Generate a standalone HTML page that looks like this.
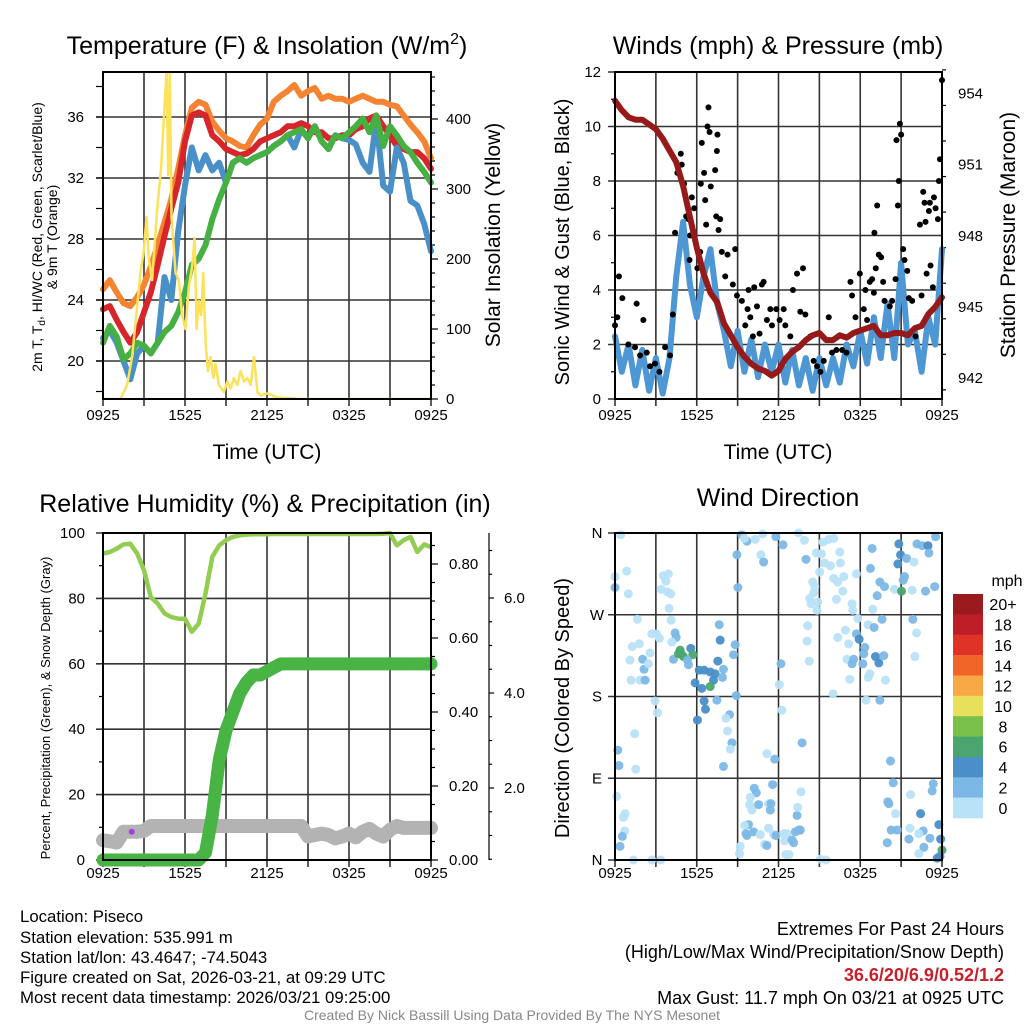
<!DOCTYPE html>
<html><head><meta charset="utf-8">
<style>
html,body{margin:0;padding:0;background:#fff;}
svg{display:block;font-family:"Liberation Sans",Arial,sans-serif;}
</style></head>
<body>
<svg id="fig" width="1024" height="1024" viewBox="0 0 1024 1024" xmlns="http://www.w3.org/2000/svg">
<rect width="1024" height="1024" fill="#fff"/>
<g id="p1"></g>
<g id="p2"></g>
<g id="p3"></g>
<g id="p4"></g>
<text x="267" y="54" font-size="25" text-anchor="middle">Temperature (F) &amp; Insolation (W/m<tspan dy="-10" font-size="16">2</tspan><tspan dy="10">)</tspan></text>
<text x="778" y="54" font-size="25" text-anchor="middle">Winds (mph) &amp; Pressure (mb)</text>
<text x="265" y="512" font-size="25" text-anchor="middle">Relative Humidity (%) &amp; Precipitation (in)</text>
<text x="778" y="506" font-size="25" text-anchor="middle">Wind Direction</text>
<text x="267" y="459" font-size="21" text-anchor="middle">Time (UTC)</text>
<text x="778" y="459" font-size="21" text-anchor="middle">Time (UTC)</text>
<text transform="translate(42,237) rotate(-90)" font-size="14" text-anchor="middle">2m T, T<tspan dy="3" font-size="10">d</tspan><tspan dy="-3">, HI/WC (Red, Green, Scarlet/Blue)</tspan></text>
<text transform="translate(57,237) rotate(-90)" font-size="14" text-anchor="middle">&amp; 9m T (Orange)</text>
<text transform="translate(500,235) rotate(-90)" font-size="21" text-anchor="middle">Solar Insolation (Yellow)</text>
<text transform="translate(569,242) rotate(-90)" font-size="20" text-anchor="middle">Sonic Wind &amp; Gust (Blue, Black)</text>
<text transform="translate(1015,235) rotate(-90)" font-size="21" text-anchor="middle">Station Pressure (Maroon)</text>
<text transform="translate(50,708) rotate(-90)" font-size="13" text-anchor="middle">Percent, Precipitation (Green), &amp; Snow Depth (Gray)</text>
<text transform="translate(569,708) rotate(-90)" font-size="20" text-anchor="middle">Direction (Colored By Speed)</text>
<g font-size="16.8">
<text x="20" y="922">Location: Piseco</text>
<text x="20" y="943">Station elevation: 535.991 m</text>
<text x="20" y="963">Station lat/lon: 43.4647; -74.5043</text>
<text x="20" y="983">Figure created on Sat, 2026-03-21, at 09:29 UTC</text>
<text x="20" y="1003">Most recent data timestamp: 2026/03/21 09:25:00</text>
</g>
<g font-size="18" text-anchor="end">
<text x="1004" y="935">Extremes For Past 24 Hours</text>
<text x="1004" y="958">(High/Low/Max Wind/Precipitation/Snow Depth)</text>
<text x="1004" y="981" fill="#c8202a" font-weight="bold">36.6/20/6.9/0.52/1.2</text>
<text x="1004" y="1004">Max Gust: 11.7 mph On 03/21 at 0925 UTC</text>
</g>
<text x="512" y="1020" font-size="14" fill="#888" text-anchor="middle">Created By Nick Bassill Using Data Provided By The NYS Mesonet</text>
</svg>
<script>
// ---- shared time axis ----
const halfHours = Array.from({length:49},(_,i)=>i*0.5);
const timeTicks = [0,6,12,18,24];
const timeTickLabels = ["0925","1525","2125","0325","0925"];
// ---- panel 1 data ----
const temp9m = [24.7,25.3,24.5,23.8,23.6,24.2,25.0,26.2,27.6,29.1,30.6,32.6,34.8,36.6,37.0,36.8,35.7,35.1,34.6,34.4,34.1,34.0,34.8,35.5,35.9,37.0,37.4,37.7,38.1,37.4,37.7,37.9,37.2,37.4,37.2,37.2,37.0,37.2,37.4,37.2,37.0,37.0,36.8,36.7,36.1,35.5,35.0,34.4,33.3];
const temp2m = [23.4,23.6,22.7,21.9,21.2,21.9,23.2,24.5,26.3,28.2,30.0,31.7,34.4,36.1,36.3,36.1,34.8,34.4,33.9,33.7,33.5,33.6,33.9,34.4,34.6,34.8,35.0,35.4,35.4,35.6,35.4,35.0,35.0,34.6,34.6,34.8,34.8,35.2,35.4,35.9,36.1,35.4,34.8,34.1,33.9,33.7,33.7,33.3,32.6];
const dewpoint = [21.2,22.3,21.6,20.1,20.5,21.2,21.0,20.5,21.2,21.9,22.3,23.2,24.5,26.3,26.7,27.6,29.3,30.6,31.7,33.0,33.3,33.0,33.3,33.5,33.7,34.1,34.4,34.8,35.0,35.2,34.6,35.4,34.4,33.9,34.8,34.6,35.0,35.4,35.9,35.0,36.1,34.1,35.4,34.8,34.1,33.7,33.0,32.4,31.7];
const heatIndex = [21.5,22.0,21.2,20.0,18.8,20.5,21.0,20.5,21.2,25.5,24.0,28.5,31.5,34.0,32.5,33.5,32.5,33.0,31.7,33.0,33.3,33.0,33.3,33.5,33.7,34.1,34.4,34.8,34.0,35.2,34.6,35.4,34.4,33.9,34.8,34.6,34.5,34.2,33.0,32.4,35.8,31.5,31.1,34.0,33.0,30.5,30.2,29.0,27.2];
const insolTimes = [0,1.27,1.76,2.13,2.49,2.74,2.98,3.18,3.35,3.59,3.96,4.25,4.45,4.65,4.77,4.89,5.01,5.31,5.55,5.79,6.04,6.28,6.53,6.70,6.85,7.02,7.19,7.33,7.51,7.68,7.87,8.07,8.24,8.48,8.85,9.10,9.34,9.58,9.83,10.07,10.32,10.56,10.81,11.05,11.30,11.54,12.03,12.76,13.74,14.23,24];
const insolValues = [0,0,20,60,130,180,210,260,200,170,270,330,400,470,320,470,260,180,170,120,100,160,190,230,100,140,120,180,80,40,60,30,50,20,10,25,15,30,20,40,25,30,20,60,10,5,8,2,1,0,0];
const tempTicks = [20,24,28,32,36];
const insolTicks = [0,100,200,300,400];
// ---- panel 2 data ----
const sonicWind = [2.3,1.0,2.0,0.5,1.8,0.3,1.5,0.2,1.5,4.5,6.5,4.2,3.0,4.5,5.5,3.5,2.5,1.2,2.5,1.0,2.2,0.8,2.0,1.0,2.0,0.6,1.8,0.5,1.5,0.3,1.5,0.5,1.5,0.6,2.0,1.2,2.5,1.3,3.0,1.5,3.5,1.5,5.0,2.0,2.5,1.0,3.0,2.0,5.5];
const pressure = [953.7,953.3,953.0,952.9,952.9,952.7,952.5,952.1,951.6,951.1,950.1,948.8,947.5,946.4,945.6,945.2,944.3,943.8,943.3,942.9,942.6,942.4,942.3,942.1,942.3,942.8,943.1,943.3,943.6,943.8,943.9,943.6,943.6,943.8,943.7,943.9,944.0,944.1,944.2,943.8,943.8,943.9,943.9,943.8,944.1,944.2,944.7,945.0,945.4];
const gustTimes = [0,0.17,0.29,0.54,0.98,1.47,1.59,1.84,2.08,2.33,2.57,2.94,3.26,3.68,4.04,4.24,4.41,4.58,4.83,4.90,5.07,5.22,5.39,5.51,5.47,5.64,5.81,6.05,6.25,6.30,6.37,6.54,6.62,6.69,6.79,6.86,6.94,7.03,7.35,7.43,7.48,7.52,7.60,7.72,7.84,8.09,8.26,8.65,8.82,8.95,9.31,9.56,9.73,9.80,9.93,10.12,10.22,10.42,10.61,10.78,10.91,11.15,11.40,11.52,11.84,12.08,12.38,12.50,12.87,13.06,13.36,13.60,13.80,13.97,14.34,14.58,14.83,15.07,15.32,15.69,15.93,16.25,16.67,16.99,17.28,17.40,17.65,17.97,18.26,18.38,18.50,18.70,18.87,19.00,19.04,19.14,19.24,19.36,19.53,19.68,19.78,20.17,20.34,20.59,20.66,20.76,20.83,20.91,21.00,21.15,21.25,21.45,21.57,21.81,22.06,22.38,22.50,22.62,22.72,22.79,22.87,23.04,23.11,23.16,23.33,23.41,23.53,23.70,23.77,23.85,24.0];
const gustValues = [2.7,3.0,4.5,3.7,2.0,1.9,3.5,1.6,2.9,1.7,1.2,1.3,1.0,1.9,1.6,3.1,6.1,8.3,9.0,8.6,7.9,6.7,6.6,6.0,5.1,7.4,7.0,4.8,5.4,7.9,9.4,8.3,7.3,6.4,10.0,10.7,9.8,7.8,8.4,6.7,9.1,9.7,6.2,6.6,5.4,4.5,5.3,4.2,5.5,3.8,3.6,2.7,3.3,4.0,3.0,2.3,4.1,3.4,2.4,4.2,4.3,2.9,3.3,2.7,3.3,2.9,3.3,2.7,2.3,4.0,4.6,3.2,4.8,3.1,2.3,1.4,1.2,1.0,1.4,3.0,1.7,1.8,1.8,1.7,4.3,3.8,3.0,4.6,3.3,4.0,2.9,4.3,4.4,3.9,6.1,4.8,7.1,5.3,5.2,4.3,3.6,3.4,3.6,4.4,9.5,7.1,8.0,10.1,9.7,5.5,5.1,4.7,3.7,3.6,2.3,6.4,3.8,7.6,7.2,6.5,4.6,6.9,7.2,4.9,4.1,7.4,7.0,6.6,8.0,8.8,11.7];
const windTicks = [0,2,4,6,8,10,12];
const pressTicks = [942,945,948,951,954];
// ---- panel 3 data ----
const relHumidity = [93.7,94.2,95.2,96.5,96.7,93.7,88.6,80.4,78.4,75.4,74.3,73.8,73.8,69.8,72.3,81.5,92.7,96.2,97.8,98.8,99.3,99.5,99.6,99.6,99.6,99.7,99.7,99.7,99.7,99.7,99.7,99.7,99.7,99.7,99.7,99.7,99.7,99.7,99.7,99.7,99.7,99.8,100,96.2,97.8,98.8,94.2,96.5,95.7];
const precip = [0,0,0,0,0,0,0,0,0,0,0,0,0,0,0,0.02,0.12,0.27,0.35,0.40,0.45,0.48,0.50,0.50,0.51,0.52,0.53,0.53,0.53,0.53,0.53,0.53,0.53,0.53,0.53,0.53,0.53,0.53,0.53,0.53,0.53,0.53,0.53,0.53,0.53,0.53,0.53,0.53,0.53];
const snowDepth = [0.9,0.88,0.85,1.08,1.08,1.08,1.1,1.2,1.2,1.2,1.2,1.2,1.2,1.2,1.2,1.2,1.2,1.2,1.2,1.2,1.2,1.2,1.2,1.2,1.2,1.2,1.2,1.2,1.2,1.2,0.98,1.01,1.04,1.01,0.94,0.98,1.04,0.96,1.08,1.14,1.04,0.98,1.12,1.2,1.16,1.16,1.16,1.16,1.16];
const rhTicks = [0,20,40,60,80,100];
const precipTicks = [0,0.2,0.4,0.6,0.8];
const precipTickLabels = ["0.00","0.20","0.40","0.60","0.80"];
const snowTicks = [2,4,6];
const snowTickLabels = ["2.0","4.0","6.0"];
// ---- panel 4 data ----
const dirTimes = [0.42,0,0,0.86,0.98,1.64,1.27,1.79,1.10,2.03,2.13,1.18,1.84,2.21,2.57,2.45,2.70,3.06,3.26,3.55,3.92,3.73,3.38,3.85,4.09,3.97,4.12,4.41,4.49,4.17,4.29,4.78,4.66,4.90,5.02,5.56,5.71,5.39,5.32,6.18,6.54,6.99,7.35,7.23,6.99,6.37,5.88,6.54,6.64,6.05,7.48,7.65,7.72,7.55,7.96,7.89,8.82,8.70,8.90,8.41,8.14,8.26,8.58,8.46,7.96,2.94,3.11,1.45,1.52,0.20,0.29,0.12,0.74,0.61,0.71,0.54,0.37,1.35,2.70,3.36,9.31,9.68,9.49,10.29,10.83,11.81,12.33,13.48,13.90,8.95,9.02,10.71,10.91,14.02,14.78,15.02,15.27,15.69,16.05,15.15,15.37,15.81,16.50,16.54,16.05,16.34,16.79,16.72,14.51,14.66,14.58,14.29,14.39,14.88,14.83,16.25,17.40,17.45,17.82,17.72,18.87,18.75,19.44,19.78,19.24,18.92,19.60,18.58,16.35,16.91,17.15,17.72,17.92,18.33,18.26,17.03,17.52,17.40,18.19,19.12,19.36,19.73,19.02,18.70,18.58,17.23,19.85,19.44,18.43,16.00,14.14,14.09,14.26,12.06,12.18,12.25,13.73,11.15,11.72,20.22,20.83,20.96,20.76,21.40,21.25,21.15,20.51,21.03,21.81,21.94,22.16,22.55,22.97,23.04,22.79,23.46,23.53,21.86,22.13,22.01,20.42,20.02,20.10,20.59,20.27,20.71,19.98,21.69,22.43,21.64,22.62,22.30,21.57,23.11,22.67,22.30,23.36,23.28,23.77,23.90,24.0,23.65,23.85,10.22,10.37,9.93,9.88,10.05,10.54,11.27,11.45,11.40,11.57,9.80,9.51,9.61,9.68,10.17,10.66,11.27,11.64,11.81,12.38,12.45,12.62,12.99,13.11,13.24,13.48,13.60,13.36,13.41,13.65,10.98,11.15,9.19,9.14,12.53,12.77,15.07,15.49];
const dirDegrees = [358,312,300,318,293,265,235,238,220,221,210,198,198,198,228,216,249,249,244,313,315,307,298,295,293,277,264,250,245,240,221,231,227,226,224,233,226,215,220,209,209,207,205,198,191,189,195,175,166,154,176,259,242,219,210,201,237,226,181,160,156,142,129,122,103,175,162,139,100,121,104,70,51,47,32,26,15,0,0,0,358,351,354,353,359,356,347,360,352,336,300,336,328,331,338,317,350,353,354,337,327,324,339,327,310,306,312,296,306,301,294,288,282,284,275,287,282,275,266,315,343,321,306,301,291,276,265,259,245,253,238,249,243,234,227,221,221,216,216,224,217,225,256,205,201,199,198,176,176,183,258,241,219,193,216,165,129,117,111,109,348,336,326,332,312,308,298,296,297,328,348,346,346,338,296,301,356,265,250,224,85,64,62,51,33,33,19,72,51,35,32,29,23,24,14,7,84,76,39,23,11,2,4,79,74,69,61,55,61,62,62,55,83,39,38,29,27,31,28,35,28,27,29,21,29,22,19,31,33,33,49,58,75,17,16,15,7,6,6,1,0];
const dirSpeeds = [1,1,3,1,1,1,1,1,1,3,3,1,1,3,1,1,1,1,1,1,1,1,1,1,1,1,1,3,3,1,3,7,7,7,7,5,7,3,3,5,5,5,5,5,7,5,5,5,5,5,3,3,5,5,3,3,3,3,3,3,1,1,3,1,3,1,1,1,1,3,3,1,1,1,1,3,3,1,1,1,3,3,1,1,1,3,3,1,1,3,3,1,3,3,1,1,1,1,1,1,1,1,1,1,1,1,1,1,1,1,1,1,1,1,1,1,1,1,1,1,3,3,3,3,3,1,3,1,1,1,1,3,5,3,3,1,3,3,3,5,5,3,3,1,1,1,1,3,1,1,1,1,1,1,3,1,3,1,3,3,5,5,5,3,3,3,1,7,1,1,3,3,5,3,3,3,3,3,1,1,3,3,3,1,3,3,3,1,5,1,3,1,3,3,3,1,3,3,5,5,7,5,5,3,3,1,1,1,3,1,3,3,3,3,1,3,3,3,1,1,1,3,1,1,1,3,3,3,3,3,3,1,1,1,3,1,1,1];
const dirTicks = [0,90,180,270,360];
const dirTickLabels = ["N","E","S","W","N"];
const speedBins = [0,2,4,6,8,10,12,14,16,18,20];
const speedBinLabels = ["0","2","4","6","8","10","12","14","16","18","20+"];
const speedColors = ["#b8e2f7","#7cb8e6","#4a8fc8","#4aa66e","#7ac14c","#e8e05a","#f9a846","#f26529","#e03328","#bd1e26","#9a1a1e"];

const NS="http://www.w3.org/2000/svg";
function mk(parent,tag,attrs){const e=document.createElementNS(NS,tag);for(const k in attrs)e.setAttribute(k,attrs[k]);parent.appendChild(e);return e;}
function linePath(xs,ys,fx,fy){return xs.map((x,i)=>(i?'L':'M')+fx(x).toFixed(1)+','+fy(ys[i]).toFixed(1)).join('');}

function frame(g,L,R,T,B,xf,hLines,yf){
  for(let h=0;h<=24;h+=3){const gl=mk(g,'line',{x1:xf(h),x2:xf(h),y1:T-1,y2:B+7,stroke:'#333','stroke-width':1.6});
  
  }
  hLines.forEach(v=>{const gl=mk(g,'line',{x1:L-7,x2:R,y1:yf(v),y2:yf(v),stroke:'#333','stroke-width':1.6});
  
  });
}
function border(g,L,R,T,B){const r=mk(g,'rect',{x:L,y:T,width:R-L,height:B-T,fill:'none',stroke:'#000','stroke-width':2});

}
function xLabels(g,xf,y){timeTicks.forEach((t,i)=>{const tx=mk(g,'text',{x:xf(t),y:y,'font-size':15,'text-anchor':'middle'});tx.textContent=timeTickLabels[i];

});}
function tick(g,x1,x2,y){mk(g,'line',{x1:x1,x2:x2,y1:y,y2:y,stroke:'#000','stroke-width':1.2});}

// ===== Panel 1 =====
(function(){
 const g=document.getElementById('p1');const L=103,R=431,T=72,B=399;
 const x=h=>L+h*(R-L)/24, yT=v=>361-(v-20)*15.25, yI=v=>399-v*0.7;
 frame(g,L,R,T,B,x,tempTicks,yT);
 for(let v=18;v<=38;v+=2){tick(g,L-7,L,yT(v));}
 for(let v=0;v<=460;v+=20){tick(g,R,R+(v%100?4:7),yI(v));}
 tempTicks.forEach(v=>{const t=mk(g,'text',{x:84,y:yT(v)+5,'font-size':15,'text-anchor':'end'});t.textContent=v;
 
 });
 insolTicks.forEach(v=>{const t=mk(g,'text',{x:R+15,y:yI(v)+5,'font-size':15});t.textContent=v;
 
 });
 const cp=mk(g,'clipPath',{id:'c1'});mk(cp,'rect',{x:L-4,y:T,width:R-L+8,height:B-T});
 const pg=mk(g,'g',{'clip-path':'url(#c1)'});
 const s=[[temp9m,'#f58432','temp-9m-line'],[temp2m,'#d7262b','temp-2m-line'],[heatIndex,'#4a90c8','heat-index-line'],[dewpoint,'#47b043','dewpoint-line']];
 s.forEach(([arr,c,n])=>{const p=mk(pg,'path',{d:linePath(halfHours,arr,x,yT),fill:'none',stroke:c,'stroke-width':6,'stroke-linejoin':'round','stroke-linecap':'round'});
 
 });
 const yl=mk(pg,'path',{d:linePath(insolTimes,insolValues,x,yI),fill:'none',stroke:'#fbe25a','stroke-width':2.5,'stroke-linejoin':'round'});
 
 
 mk(g,'line',{x1:L,x2:R,y1:B,y2:B,stroke:'#e8c400','stroke-width':2});
 border(g,L,R,T,B);
 xLabels(g,x,420);
})();

// ===== Panel 2 =====
(function(){
 const g=document.getElementById('p2');const L=615,R=942,T=72,B=399;
 const x=h=>L+h*(R-L)/24, yW=v=>399-v*27.25, yP=p=>378-(p-942)*23.7;
 frame(g,L,R,T,B,x,windTicks,yW);
 for(let v=1;v<=11;v+=2){tick(g,L-4,L,yW(v));}
 for(let p=941.5;p<=955;p+=1.5){tick(g,R,R+(Math.abs((p-942)%3)<0.01?7:4),yP(p));}
 windTicks.forEach(v=>{const t=mk(g,'text',{x:L-14,y:yW(v)+5,'font-size':15,'text-anchor':'end'});t.textContent=v;
 
 });
 pressTicks.forEach(v=>{const t=mk(g,'text',{x:R+16,y:yP(v)+5,'font-size':15});t.textContent=v;
 
 });
 const cp=mk(g,'clipPath',{id:'c2'});mk(cp,'rect',{x:L-4,y:T-6,width:R-L+10,height:B-T+10});
 const pg=mk(g,'g',{'clip-path':'url(#c2)'});
 const wl=mk(pg,'path',{d:linePath(halfHours,sonicWind,x,yW),fill:'none',stroke:'#4d97d4','stroke-width':6,'stroke-linejoin':'round','stroke-linecap':'round'});
 
 
 gustTimes.forEach((t,i)=>{const c=mk(pg,'circle',{cx:x(t),cy:yW(gustValues[i]),r:3,fill:'#000'});
 
 });
 const pl=mk(pg,'path',{d:linePath(halfHours,pressure,x,yP),fill:'none',stroke:'#961a1a','stroke-width':6,'stroke-linejoin':'round','stroke-linecap':'round'});
 
 
 border(g,L,R,T,B);
 xLabels(g,x,420);
})();

// ===== Panel 3 =====
(function(){
 const g=document.getElementById('p3');const L=103,R=431,T=533,B=860;
 const x=h=>L+h*(R-L)/24, yR=v=>860-v*3.27, yPr=v=>860-v*370, ySn=v=>883-v*47.5;
 frame(g,L,R,T,B,x,rhTicks,yR);
 for(let v=10;v<=90;v+=20){tick(g,L-4,L,yR(v));}
 for(let v=0;v<=0.88;v+=0.05){tick(g,R,R+(Math.round(v*100)%20?4:7),yPr(v));}
 mk(g,'line',{x1:489,x2:489,y1:533,y2:860,stroke:'#000','stroke-width':1.2});
 for(let v=0.5;v<=7.5;v+=0.5){const yy=ySn(v);if(yy>=533&&yy<=860)tick(g,489,489+(v%2?3:5),yy);}
 rhTicks.forEach(v=>{const t=mk(g,'text',{x:85,y:yR(v)+5,'font-size':15,'text-anchor':'end'});t.textContent=v;
 
 });
 precipTicks.forEach((v,i)=>{const t=mk(g,'text',{x:R+18,y:yPr(v)+5,'font-size':15});t.textContent=precipTickLabels[i];
 
 });
 snowTicks.forEach((v,i)=>{const t=mk(g,'text',{x:504,y:ySn(v)+5,'font-size':15});t.textContent=snowTickLabels[i];
 
 });
 const sl=mk(g,'path',{d:linePath(halfHours,snowDepth,x,ySn),fill:'none',stroke:'#b3b3b3','stroke-width':14,'stroke-linejoin':'round','stroke-linecap':'round'});
 
 
 const pd=mk(g,'circle',{cx:x(2.1),cy:ySn(1.08),r:3,fill:'#a43de0'});
 
 
 const pr=mk(g,'path',{d:linePath(halfHours,precip,x,yPr),fill:'none',stroke:'#47b443','stroke-width':13,'stroke-linejoin':'round','stroke-linecap':'round'});
 
 
 const rh=mk(g,'path',{d:linePath(halfHours,relHumidity,x,yR),fill:'none',stroke:'#92cd52','stroke-width':4.5,'stroke-linejoin':'round'});
 
 
 border(g,L,R,T,B);
 xLabels(g,x,878);
})();

// ===== Panel 4 =====
(function(){
 const g=document.getElementById('p4');const L=615,R=942,T=533,B=860;
 const x=h=>L+h*(R-L)/24, yD=d=>860-d*(B-T)/360;
 frame(g,L,R,T,B,x,dirTicks,yD);
 dirTicks.forEach((v,i)=>{const t=mk(g,'text',{x:L-18,y:yD(v)+5,'font-size':15,'text-anchor':'middle'});t.textContent=dirTickLabels[i];
 
 });
 const colorFor=s=>{let k=0;speedBins.forEach((b,i)=>{if(s>=b)k=i;});return speedColors[k];};
 dirTimes.forEach((t,i)=>{const c=mk(g,'circle',{cx:x(t),cy:yD(dirDegrees[i]),r:4.5,fill:colorFor(dirSpeeds[i]),'fill-opacity':0.95});
 
 });
 border(g,L,R,T,B);
 xLabels(g,x,878);
 const cb=mk(g,'g',{});
 
 
 const top=594,h=(818-594)/speedColors.length;
 speedColors.forEach((c,i)=>{const idx=speedColors.length-1-i;
  mk(cb,'rect',{x:953,y:top+i*h,width:30,height:h+0.3,fill:speedColors[idx]});
  const t=mk(cb,'text',{x:1003,y:top+i*h+h/2+6,'font-size':16,'text-anchor':'middle'});t.textContent=speedBinLabels[idx];
  
  });
 const mt=mk(cb,'text',{x:1007,y:586,'font-size':16,'text-anchor':'middle'});mt.textContent='mph';
 
 
})();
</script>
</body></html>
